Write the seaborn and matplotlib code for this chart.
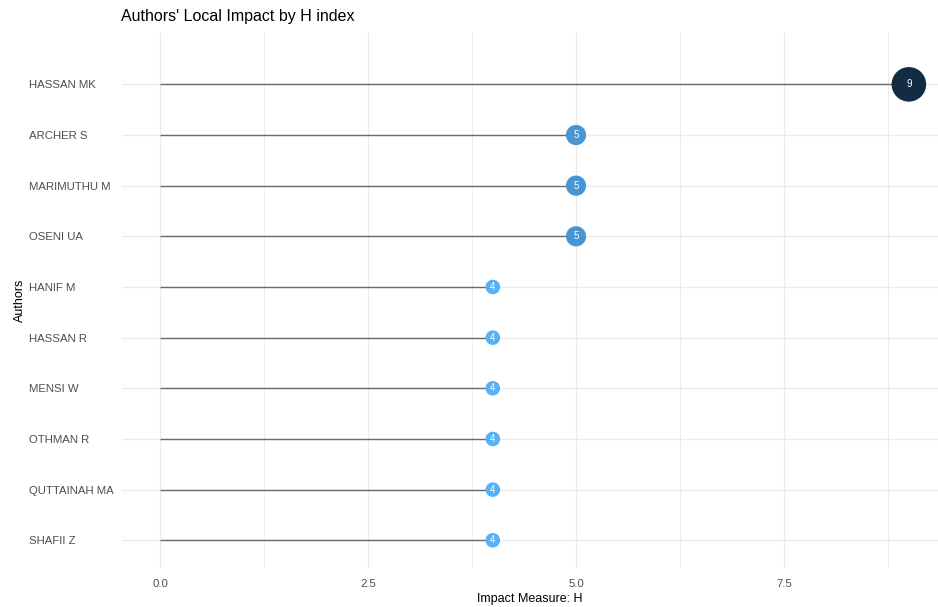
import pandas as pd
import numpy as np
import matplotlib
matplotlib.use("Agg")
import matplotlib.pyplot as plt
import seaborn as sns
from matplotlib.colors import LinearSegmentedColormap
from matplotlib.ticker import MultipleLocator

# ---- data ----
authors = ['HASSAN MK', 'ARCHER S', 'MARIMUTHU M', 'OSENI UA', 'HANIF M',
           'HASSAN R', 'MENSI W', 'OTHMAN R', 'QUTTAINAH MA', 'SHAFII Z']
h_index = [9, 5, 5, 5, 4, 4, 4, 4, 4, 4]

df = pd.DataFrame({'Author': authors, 'H': h_index})

sns.set_theme(style='white')
plt.rcParams['font.family'] = ['Liberation Sans', 'DejaVu Sans']

# ggplot-like gradient, dark for high values
cmap = LinearSegmentedColormap.from_list('gg', ['#56B1F7', '#132B43'])

fig = plt.figure(figsize=(9.38, 6.07), dpi=100)
ax = fig.add_axes([0.130, 0.064, 0.870, 0.883])

# stems
ax.hlines(y=df['Author'], xmin=0, xmax=df['H'], color='#6b6b6b', linewidth=1.0, zorder=2)

sns.scatterplot(data=df, x='H', y='Author', hue='H', size='H',
                palette=cmap, hue_norm=(4, 9), sizes=(110, 620), size_norm=(4, 9),
                linewidth=0, legend=False, ax=ax, zorder=3)

for a, v in zip(df['Author'], df['H']):
    ax.text(v, a, str(v), color='white', fontsize=7, ha='center', va='center', zorder=4)

# axes styling (theme_minimal look)
ax.set_xlim(-0.457, 9.35)
ax.set_ylim(len(authors) - 1 + 0.55, -1.03)
ax.xaxis.set_minor_locator(MultipleLocator(1.25))
ax.set_xticks([0, 2.5, 5.0, 7.5])
ax.set_xticklabels(['0.0', '2.5', '5.0', '7.5'])
ax.grid(which='major', axis='both', color='#ebebeb', linewidth=1.0, zorder=0)
ax.grid(which='minor', axis='x', color='#ebebeb', linewidth=0.6, zorder=0)
ax.set_axisbelow(True)
for s in ax.spines.values():
    s.set_visible(False)

ax.tick_params(axis='both', which='both', length=0, labelsize=8.2, labelcolor='#4d4d4d')
ax.tick_params(axis='x', pad=8)
ax.tick_params(axis='y', pad=67)
for lab in ax.get_yticklabels():
    lab.set_horizontalalignment('left')

ax.set_xlabel('Impact Measure: H', fontsize=9, color='black', labelpad=3)
ax.set_ylabel('Authors', fontsize=9, color='black', labelpad=4)
ax.yaxis.set_label_coords(-0.117, 0.5)

fig.text(121 / 938, 1 - 17 / 607, "Authors' Local Impact by H index",
         fontsize=11.5, color='black', ha='left', va='center')

fig.savefig('out.png', dpi=100)
